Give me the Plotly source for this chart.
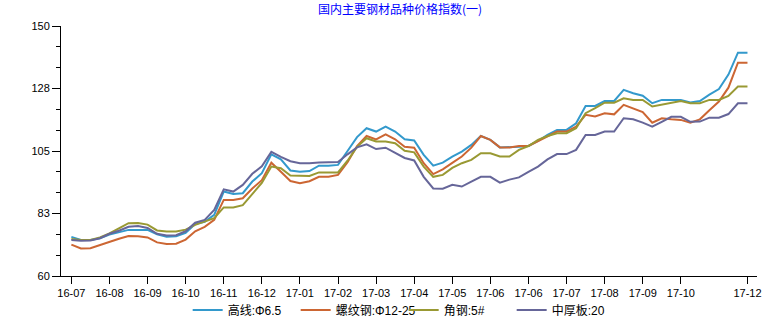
import plotly.graph_objects as go

title_text = "国内主要钢材品种价格指数(一)"
series_names = ["高线:Φ6.5", "螺纹钢:Φ12-25", "角钢:5#", "中厚板:20"]
series_colors = ["#3399cc", "#cc6633", "#999933", "#666699"]

gaoxian = [74.1, 73.0, 73.0, 73.6, 74.9, 75.8, 76.6, 76.6, 76.6, 75.0, 74.1, 74.3, 75.5, 78.7, 79.5, 82.0,
           90.4, 89.5, 89.8, 94.0, 97.0, 103.8, 102.0, 98.0, 97.5, 97.8, 99.7, 99.7, 100.0, 105.0, 110.0, 113.2,
           112.0, 113.8, 112.0, 109.2, 108.8, 103.6, 99.7, 100.8, 103.0, 104.8, 107.2, 110.4, 109.0, 106.3, 106.3,
           106.5, 106.8, 108.6, 110.8, 112.6, 112.6, 115.0, 121.2, 121.2, 123.0, 123.0, 127.0, 125.8, 124.9, 122.2,
           123.4, 123.4, 123.4, 122.5, 123.0, 125.3, 127.3, 132.5, 140.4, 140.4]
luowengang = [71.3, 69.9, 70.0, 71.2, 72.3, 73.4, 74.4, 74.3, 73.9, 72.1, 71.5, 71.6, 73.1, 76.1, 77.7, 80.2,
              87.4, 87.4, 88.0, 91.5, 94.5, 100.8, 97.5, 94.2, 93.4, 94.1, 95.7, 95.7, 96.4, 101.0, 106.8, 110.4,
              109.2, 111.0, 109.2, 106.5, 106.2, 100.6, 96.7, 98.4, 100.7, 103.0, 106.2, 110.4, 109.0, 106.3, 106.3,
              106.8, 106.8, 108.6, 110.5, 112.0, 112.0, 113.8, 118.0, 117.4, 118.6, 118.2, 121.6, 120.2, 119.0, 115.2,
              116.8, 116.4, 116.2, 115.2, 116.4, 119.7, 122.8, 127.8, 136.8, 136.8]
jiaogang = [73.3, 73.0, 73.0, 73.9, 75.3, 77.3, 79.0, 79.1, 78.5, 76.4, 76.0, 76.0, 76.7, 78.4, 79.5, 80.8,
            84.7, 84.7, 85.5, 89.5, 93.5, 99.4, 98.8, 96.2, 96.0, 96.0, 97.3, 97.3, 97.3, 101.5, 106.5, 109.6,
            108.4, 108.4, 107.8, 105.1, 104.5, 99.4, 95.7, 96.4, 98.9, 100.6, 101.8, 104.2, 104.2, 103.0, 103.0,
            105.4, 106.8, 109.0, 110.4, 111.4, 111.4, 113.2, 118.6, 120.4, 122.4, 122.4, 124.0, 123.4, 123.4, 121.0,
            121.6, 122.3, 123.0, 122.2, 122.2, 123.4, 123.4, 124.8, 128.2, 128.2]
zhonghouban = [73.0, 72.7, 72.8, 73.6, 75.2, 76.3, 77.7, 78.0, 77.3, 75.2, 74.6, 74.7, 76.1, 79.2, 80.2, 83.8,
               91.2, 90.4, 92.8, 96.8, 99.5, 104.7, 102.9, 101.3, 100.6, 100.6, 100.9, 100.9, 101.0, 103.8, 106.3, 107.4,
               105.7, 106.2, 104.4, 102.5, 101.6, 95.7, 91.5, 91.4, 92.8, 92.2, 94.0, 95.7, 95.7, 93.6, 94.7,
               95.5, 97.5, 99.4, 102.0, 103.9, 103.9, 105.4, 110.8, 110.8, 112.0, 112.0, 116.8, 116.4, 115.2, 113.8,
               115.5, 117.3, 117.3, 115.5, 115.6, 117.0, 117.0, 118.3, 122.2, 122.2]

x_tick_index = [0, 4, 8, 12, 16, 20, 24, 28, 32, 36, 40, 44, 48, 52, 56, 60, 64, 71]
x_tick_labels = ["16-07", "16-08", "16-09", "16-10", "16-11", "16-12", "17-01", "17-02", "17-03",
                 "17-04", "17-05", "17-06", "17-06", "17-07", "17-08", "17-09", "17-10", "17-12"]
y_tick_values = [60, 82.5, 105, 127.5, 150]
y_tick_labels = ["60", "83", "105", "128", "150"]

all_series = [gaoxian, luowengang, jiaogang, zhonghouban]
x = list(range(len(gaoxian)))

fig = go.Figure()
for name, color, vals in zip(series_names, series_colors, all_series):
    fig.add_trace(go.Scatter(x=x, y=vals, mode="lines", name=name,
                             line=dict(color=color, width=2)))

font_main = "Liberation Sans, Arial, Noto Sans CJK SC, sans-serif"
fig.update_layout(
    width=765, height=325,
    margin=dict(l=61, r=8, t=26, b=49, autoexpand=False),
    paper_bgcolor="white", plot_bgcolor="white",
    font=dict(family=font_main, size=11, color="black"),
    title=dict(text=title_text, x=0.523, xanchor="center", y=0.97, yanchor="middle",
               font=dict(family="Noto Sans CJK SC, sans-serif", size=12, color="#0000ff")),
    showlegend=True,
    legend=dict(orientation="h", x=0.182, xanchor="left", y=-0.136, yanchor="middle",
                entrywidth=63, entrywidthmode="pixels", font=dict(size=12),
                bgcolor="rgba(0,0,0,0)", itemwidth=30, tracegroupgap=0),
    xaxis=dict(range=[-1.09, 72], showgrid=False, zeroline=False, showline=True,
               linecolor="black", linewidth=1, ticks="outside", ticklen=7, tickcolor="black",
               tickvals=x_tick_index, ticktext=x_tick_labels, tickangle=0, automargin=False),
    yaxis=dict(range=[60, 150], showgrid=False, zeroline=False, showline=True,
               linecolor="black", linewidth=1, ticks="outside", ticklen=8, tickcolor="black",
               tickvals=y_tick_values, ticktext=y_tick_labels, automargin=False,
               minor=dict(tick0=60, dtick=7.5, ticks="outside", ticklen=4, tickcolor="black", showgrid=False)),
)

fig.write_html("out.html")
